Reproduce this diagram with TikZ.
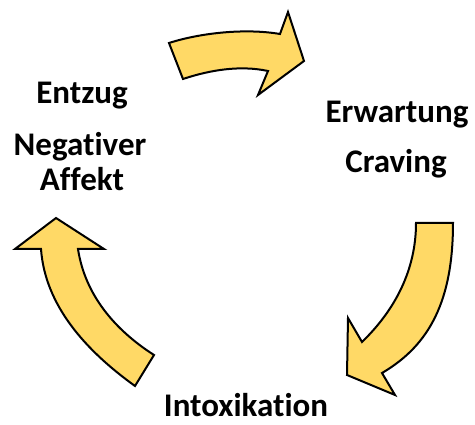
\documentclass[tikz,border=0pt]{standalone}
\usepackage{fontspec}
\setmainfont{Carlito}[RawFeature={-liga}]
\definecolor{arrowfill}{HTML}{FFD966}
\tikzset{
  cyclearrow/.style={draw=black, line width=2pt, fill=arrowfill, line join=miter},
  lbl/.style={font=\fontsize{33}{24}\selectfont\bfseries, text=black, anchor=base, inner sep=0pt}
}
\begin{document}
\begin{tikzpicture}[x=1pt,y=-1pt]
\useasboundingbox (0,0) rectangle (475,425);
% top arrow
\path[cyclearrow] (169,43) .. controls (200,33) and (245,28) .. (280,34) -- (288,12) -- (304,61) -- (258,95) -- (268,71) .. controls (240,65) and (210,70) .. (183,79) -- cycle;
% right arrow
\path[cyclearrow] (416,223) -- (453,223) .. controls (453,300) and (430,345) .. (382,373) -- (395,395) -- (347,375) -- (348,318) -- (362,342) .. controls (395,310) and (416,270) .. (416,223) -- cycle;
% left arrow
\path[cyclearrow] (56,218) -- (104,249) -- (78,249) .. controls (85,295) and (115,330) .. (154,355) -- (135,386) .. controls (85,350) and (45,305) .. (41,249) -- (15,249) -- cycle;
% labels
\node[lbl] (entzug) at (82,104) {Entzug};
\node[lbl] (negativ) at (80,156) {Negativer};
\node[lbl] (affekt) at (82,191) {Affekt};
\node[lbl] (erwartung) at (397,123) {Erwartung};
\node[lbl] (craving) at (396,173) {Craving};
\node[lbl] (intox) at (246,417) {Intoxikation};
\end{tikzpicture}
\end{document}
